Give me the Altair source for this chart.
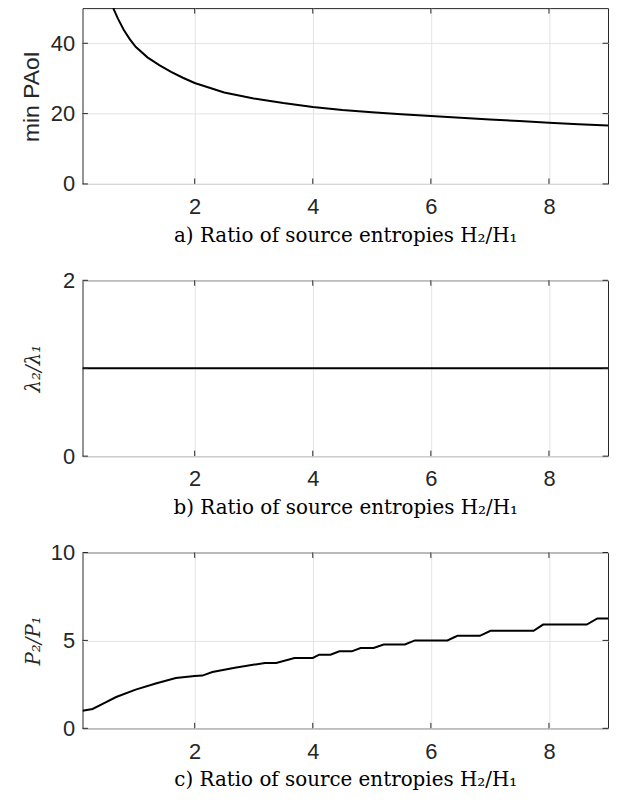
import altair as alt
import pandas as pd

# ---- data ----
x_ticks = [2, 4, 6, 8]
x_domain = [0.1, 9.0]

paoi_x = [0.62, 0.7, 0.8, 0.9, 1.0, 1.2, 1.4, 1.6, 1.8, 2.0, 2.5, 3.0, 3.5,
          4.0, 4.5, 5.0, 5.5, 6.0, 6.5, 7.0, 7.5, 8.0, 8.5, 9.0]
paoi_y = [50.0, 47.0, 43.8, 41.2, 39.0, 36.0, 33.8, 31.9, 30.2, 28.7, 26.0, 24.3, 23.0,
          21.9, 21.0, 20.4, 19.8, 19.3, 18.8, 18.3, 17.9, 17.4, 17.0, 16.6]
paoi_ticks = [0, 20, 40]

lam_x = [0.1, 9.0]
lam_y = [1.0, 1.0]
lam_ticks = [0, 1, 2]

pow_x = [0.1, 0.27, 0.45, 0.67, 1.0, 1.34, 1.68, 2.0, 2.13, 2.3, 2.68, 3.19, 3.38, 3.69, 4.0,
         4.11, 4.3, 4.45, 4.66, 4.81, 5.03, 5.2, 5.56, 5.73, 6.28, 6.45, 6.83, 7.01, 7.74,
         7.9, 8.64, 8.82, 9.0]
pow_y = [1.0, 1.1, 1.4, 1.78, 2.2, 2.55, 2.86, 2.98, 3.0, 3.2, 3.45, 3.72, 3.72, 4.0, 4.0,
         4.19, 4.19, 4.38, 4.38, 4.57, 4.57, 4.77, 4.77, 5.0, 5.0, 5.26, 5.26, 5.55, 5.55,
         5.9, 5.9, 6.25, 6.25]
pow_ticks = [0, 5, 10]

W, H = 529, 177
TL = 5.5  # inward tick length
SANS = "Liberation Sans"
SERIF = "DejaVu Serif"
AX = "#262626"
GRID = "#e3e3e3"


def panel(xs, ys, ydom, yticks, ytitle, xtitle, yfont, yfsize, ystyle):
    df = pd.DataFrame({"x": xs, "y": ys})
    xscale = alt.Scale(domain=x_domain, nice=False, zero=False)
    yscale = alt.Scale(domain=ydom, nice=False, zero=False)
    xaxis = alt.Axis(values=x_ticks, title=xtitle, ticks=False, domain=False, grid=True,
                     gridColor=GRID, gridWidth=1, labelFont=SANS, labelFontSize=22,
                     labelColor=AX, labelPadding=13, titleFont=SERIF, titleFontSize=20,
                     titleFontWeight="normal", titleColor="#000000", titlePadding=8)
    yaxis = alt.Axis(values=yticks, title=ytitle, ticks=False, domain=False, grid=True,
                     gridColor=GRID, gridWidth=1, labelFont=SANS, labelFontSize=22,
                     labelColor=AX, labelPadding=8, minExtent=39, maxExtent=39, format="d",
                     titlePadding=0, titleFont=yfont, titleFontSize=yfsize,
                     titleFontStyle=ystyle, titleFontWeight="normal", titleColor=AX)
    line = alt.Chart(df).mark_line(color="black", strokeWidth=2, clip=True).encode(
        x=alt.X("x:Q", scale=xscale, axis=xaxis),
        y=alt.Y("y:Q", scale=yscale, axis=yaxis),
    )
    tdx = pd.DataFrame({"x": x_ticks})
    tdy = pd.DataFrame({"y": yticks})
    rk = dict(color=AX, strokeWidth=1)
    tick_b = alt.Chart(tdx).mark_rule(**rk).encode(
        x=alt.X("x:Q", scale=xscale, axis=xaxis), y=alt.value(H), y2=alt.value(H - TL))
    tick_t = alt.Chart(tdx).mark_rule(**rk).encode(
        x=alt.X("x:Q", scale=xscale, axis=xaxis), y=alt.value(0), y2=alt.value(TL))
    tick_l = alt.Chart(tdy).mark_rule(**rk).encode(
        y=alt.Y("y:Q", scale=yscale, axis=yaxis), x=alt.value(0), x2=alt.value(TL))
    tick_r = alt.Chart(tdy).mark_rule(**rk).encode(
        y=alt.Y("y:Q", scale=yscale, axis=yaxis), x=alt.value(W), x2=alt.value(W - TL))
    return alt.layer(line, tick_b, tick_t, tick_l, tick_r).properties(width=W, height=H)


p1 = panel(paoi_x, paoi_y, [0, 50], paoi_ticks, "min PAoI",
           "a) Ratio of source entropies H₂/H₁", SANS, 23, "normal")
p2 = panel(lam_x, lam_y, [0, 2], lam_ticks, "λ₂/λ₁",
           "b) Ratio of source entropies H₂/H₁", SERIF, 20, "italic")
p3 = panel(pow_x, pow_y, [0, 10], pow_ticks, "P₂/P₁",
           "c) Ratio of source entropies H₂/H₁", SERIF, 20, "italic")

chart = alt.vconcat(p1, p2, p3, spacing=22).properties(
    padding={"left": 12, "top": -3.5, "right": 0, "bottom": 0},
    background="white",
).configure_view(stroke=AX, strokeWidth=1)

chart.save("out.html", embed_options={"renderer": "svg", "actions": False})
